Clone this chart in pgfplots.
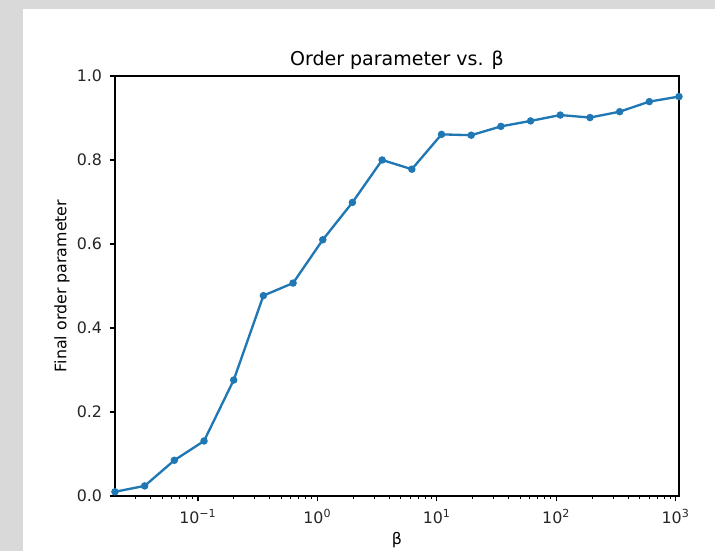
\documentclass[border=0pt]{standalone}
\usepackage{fontspec}
\setmainfont{DejaVu Sans}
\usepackage{pgfplots}
\pgfplotsset{compat=1.18}
\definecolor{mplblue}{RGB}{31,119,180}
\definecolor{bggray}{RGB}{217,217,217}
\begin{document}
\begin{tikzpicture}
\fill[bggray] (0,0) rectangle (429pt,330.6pt);
\fill[white] (13.8pt,0) rectangle (429pt,325.2pt);
\begin{axis}[
  at={(69pt,33pt)}, anchor=south west,
  scale only axis, width=338.4pt, height=252pt,
  xmode=log, log basis x=10,
  xmin=0.0202, xmax=1066, ymin=0, ymax=1,
  xtick={0.1,1,10,100,1000},
  xticklabels={10\textsuperscript{−1},10\textsuperscript{0},10\textsuperscript{1},10\textsuperscript{2},10\textsuperscript{3}},
  minor xtick={0.03,0.04,0.05,0.06,0.07,0.08,0.09,0.2,0.3,0.4,0.5,0.6,0.7,0.8,0.9,2,3,4,5,6,7,8,9,20,30,40,50,60,70,80,90,200,300,400,500,600,700,800,900},
  ytick={0,0.2,0.4,0.6,0.8,1.0},
  yticklabel style={/pgf/number format/fixed, /pgf/number format/fixed zerofill, /pgf/number format/precision=1, /pgf/number format/assume math mode=true, xshift=-1pt},
  tick label style={font=\fontsize{9.5}{11}\selectfont, text=black!85},
  tick align=outside, xtick pos=bottom, ytick pos=left,
  major tick length=3.3pt, minor tick length=1.9pt,
  every major tick/.style={black, line width=0.7pt},
  every minor tick/.style={black, line width=0.55pt},
  axis line style={black, line width=0.75pt},
  xticklabel style={yshift=-1pt},
  title={Order parameter vs. β},
  title style={at={(axis description cs:0.5,1)}, anchor=south, inner sep=0pt, yshift=-2.1pt, font=\fontsize{11.4}{13}\selectfont},
  xlabel={β},
  xlabel style={at={(axis description cs:0.5,0)}, anchor=base, inner sep=0pt, yshift=-29.4pt, font=\fontsize{9.5}{11}\selectfont},
  ylabel={Final order parameter},
  ylabel style={at={(axis description cs:0,0.5)}, anchor=center, yshift=31.8pt, font=\fontsize{9.5}{11}\selectfont},
  clip=false,
]
\addplot[mplblue, line width=1.4pt, mark=*, mark size=1.5pt, mark options={solid}] coordinates {
(0.02018,0.010)
(0.03578,0.024)
(0.06341,0.085)
(0.1124,0.131)
(0.1992,0.276)
(0.3531,0.477)
(0.6258,0.507)
(1.1093,0.610)
(1.966,0.699)
(3.485,0.800)
(6.177,0.778)
(10.95,0.861)
(19.41,0.859)
(34.40,0.880)
(60.98,0.893)
(108.1,0.907)
(191.6,0.901)
(339.6,0.915)
(601.9,0.939)
(1066,0.951)
};
\end{axis}
\end{tikzpicture}
\end{document}
